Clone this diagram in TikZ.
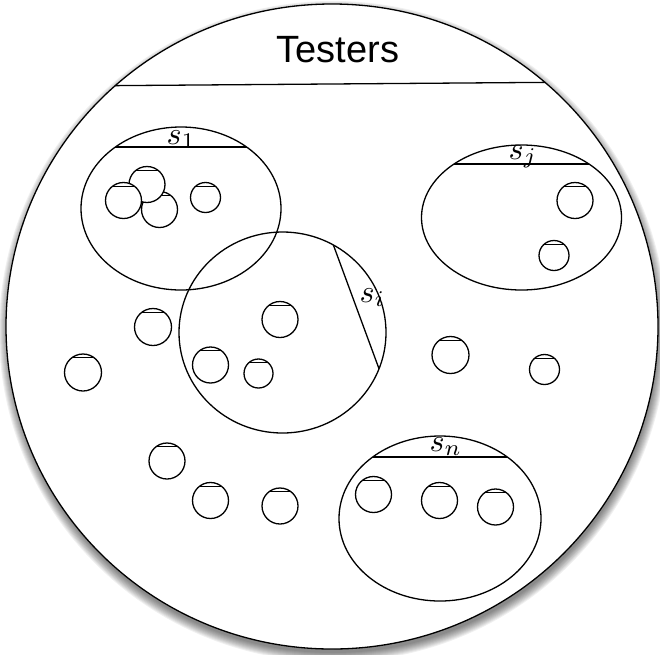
\documentclass[tikz,border=0pt]{standalone}
\usepackage{fontspec}
\setsansfont{Liberation Sans}
\usepackage{tikz}
\tikzset{
    ring/.style={line width=1.3pt}, % 圆和椭圆的线条
    lid/.style={line width=1pt}, % 小圆顶部的弦
    label math/.style={inner sep=0pt, anchor=base west, scale=3.2} % 组名
}

\begin{document}
\begin{tikzpicture}[x=1pt, y=-1pt]
    \useasboundingbox (0,0) rectangle (660,654);
    \def\cx{332} \def\cy{326.5} \def\rx{326} \def\ry{322.5}

    % 阴影
    \foreach \k in {0,...,9} {\fill[black, opacity=0.06] (\cx+1,\cy+5) ellipse ({\rx-1+\k} and {\ry-1+\k});}
    \fill[white] (\cx,\cy) ellipse ({\rx} and {\ry});

    \begin{scope}
        \clip (\cx,\cy) ellipse ({\rx} and {\ry});
        \draw[ring] (0,86.5) -- (660,81.5);
    \end{scope}
    \draw[ring] (\cx,\cy) ellipse ({\rx} and {\ry});
    \node[inner sep=0pt, anchor=base, font=\sffamily\fontsize{38}{42}\selectfont] at (338,62) {Testers};

    % 四个组
    \foreach \ex/\ey/\ea/\eb/\ch in {181/208.5/100/81.5/147, 521.5/217.5/100/72.5/164, 440/518.5/101/82.5/457} {
        \draw[ring] (\ex,\ey) ellipse ({\ea} and {\eb});
        \begin{scope}
            \clip (\ex,\ey) ellipse ({\ea} and {\eb});
            \draw[ring] (0,\ch) -- (660,\ch);
        \end{scope}
    }
    \draw[ring] (282.5,332.5) ellipse (103.5 and 100.5);
    \begin{scope}
        \clip (282.5,332.5) ellipse (103.5 and 100.5);
        \draw[ring] (324,219.6) -- (387,390.4);
    \end{scope}

    \node[label math] at (166,144) {$s_1$};
    \node[label math] at (508,159) {$s_j$};
    \node[label math] at (359,302) {$s_i$};
    \node[label math] at (429,451) {$s_n$};

    % 测试者
    \foreach \x/\y/\r in {159.5/209.5/18, 147/184.5/18, 123.5/200.5/18, 205.5/197.5/15,
                           280/319.5/18, 210.5/365/18, 258.5/373.5/14.5,
                           575/200.5/18, 554/255.5/15,
                           373.5/494.5/18, 439.5/500.5/18, 495.5/507/18,
                           153/327/18.5, 83/372.5/18.5, 167/461/18, 210.5/500.5/18,
                           280/506/18, 450.5/355/18.5, 544.5/369.5/15} {
        \fill[white] (\x,\y) circle (\r);
        \begin{scope}
            \clip (\x,\y) circle (\r);
            \draw[lid] (\x-\r,\y-\r+3.5) -- (\x+\r,\y-\r+3.5);
        \end{scope}
        \draw[ring] (\x,\y) circle (\r);
    }
\end{tikzpicture}
\end{document}
